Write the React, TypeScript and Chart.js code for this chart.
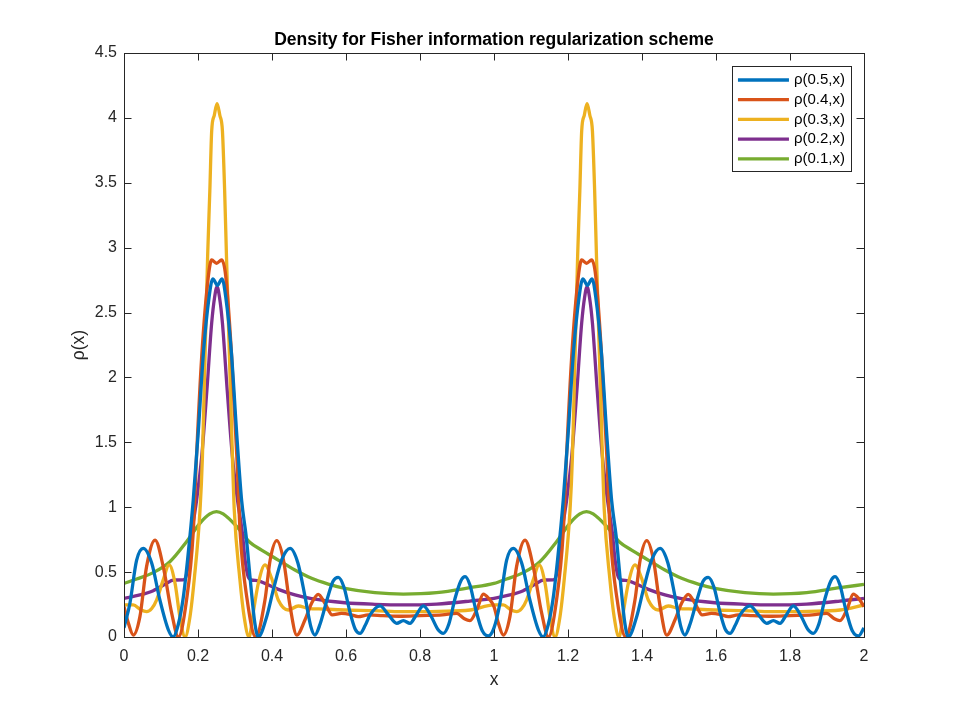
import { useEffect, useRef } from 'react';
import Chart from 'chart.js/auto';

const FONT = "'Liberation Sans', Arial, Helvetica, sans-serif";
const AXIS_COLOR = '#262626';

// x ticks / y ticks
const xTicks = [0, 0.2, 0.4, 0.6, 0.8, 1, 1.2, 1.4, 1.6, 1.8, 2];
const yTicks = [0, 0.5, 1, 1.5, 2, 2.5, 3, 3.5, 4, 4.5];

const labels = ['ρ(0.5,x)', 'ρ(0.4,x)', 'ρ(0.3,x)', 'ρ(0.2,x)', 'ρ(0.1,x)'];
const colors = ['#0072BD', '#D95319', '#EDB120', '#7E2F8E', '#77AC30'];

// rho(0.5,x)
const rho05X = [
  0, 0.016, 0.034, 0.052, 0.075, 0.097, 0.12, 0.133, 0.147, 0.16, 0.172, 0.187, 0.2, 0.215, 0.23, 0.24, 0.2525,
  0.265, 0.275, 0.29, 0.305, 0.318, 0.33, 0.342, 0.353, 0.363, 0.385, 0.405, 0.427, 0.449, 0.47, 0.49, 0.505,
  0.516, 0.53, 0.55, 0.565, 0.579, 0.595, 0.61, 0.625, 0.638, 0.652, 0.665, 0.692, 0.715, 0.737, 0.755, 0.773,
  0.79, 0.809, 0.83, 0.848, 0.863, 0.878, 0.895, 0.91, 0.922, 0.935, 0.95, 0.968, 0.985,
  1, 1.016, 1.034, 1.052, 1.075, 1.097, 1.12, 1.133, 1.147, 1.16, 1.172, 1.187, 1.2, 1.215, 1.23, 1.24, 1.2525,
  1.265, 1.275, 1.29, 1.305, 1.318, 1.33, 1.342, 1.353, 1.363, 1.385, 1.405, 1.427, 1.449, 1.47, 1.49, 1.505,
  1.516, 1.53, 1.55, 1.565, 1.579, 1.595, 1.61, 1.625, 1.638, 1.652, 1.665, 1.692, 1.715, 1.737, 1.755, 1.773,
  1.79, 1.809, 1.83, 1.848, 1.863, 1.878, 1.895, 1.91, 1.922, 1.935, 1.95, 1.968, 1.985, 2,
];
const rho05Y = [
  0.07, 0.26, 0.59, 0.683, 0.568, 0.285, 0.054, 0, 0.1, 0.3, 0.6, 1.05, 1.55, 2.2, 2.62, 2.76, 2.71,
  2.76, 2.62, 2.2, 1.55, 1.05, 0.78, 0.42, 0.12, 0, 0.15, 0.38, 0.6, 0.683, 0.57, 0.3, 0.08,
  0.015, 0.1, 0.3, 0.43, 0.46, 0.38, 0.2, 0.06, 0.028, 0.09, 0.17, 0.24, 0.17, 0.105, 0.126, 0.105,
  0.17, 0.24, 0.16, 0.06, 0.028, 0.1, 0.3, 0.43, 0.465, 0.4, 0.22, 0.05, 0.008,
  0.07, 0.26, 0.59, 0.683, 0.568, 0.285, 0.054, 0, 0.1, 0.3, 0.6, 1.05, 1.55, 2.2, 2.62, 2.76, 2.71,
  2.76, 2.62, 2.2, 1.55, 1.05, 0.78, 0.42, 0.12, 0, 0.15, 0.38, 0.6, 0.683, 0.57, 0.3, 0.08,
  0.015, 0.1, 0.3, 0.43, 0.46, 0.38, 0.2, 0.06, 0.028, 0.09, 0.17, 0.24, 0.17, 0.105, 0.126, 0.105,
  0.17, 0.24, 0.16, 0.06, 0.028, 0.1, 0.3, 0.43, 0.465, 0.4, 0.22, 0.05, 0.008, 0.07,
];

// rho(0.4,x)
const rho04X = [
  0, 0.012, 0.025, 0.043, 0.061, 0.084, 0.106, 0.129, 0.147, 0.169, 0.187, 0.196, 0.21, 0.228, 0.237, 0.25,
  0.264, 0.275, 0.291, 0.305, 0.314, 0.333, 0.356, 0.381, 0.395, 0.413, 0.431, 0.449, 0.467, 0.489, 0.507,
  0.525, 0.543, 0.563, 0.588, 0.61, 0.633, 0.66, 0.7, 0.75, 0.8, 0.86, 0.899, 0.92, 0.935, 0.955, 0.971, 0.985,
  1, 1.012, 1.025, 1.043, 1.061, 1.084, 1.106, 1.129, 1.147, 1.169, 1.187, 1.196, 1.21, 1.228, 1.237, 1.25,
  1.264, 1.275, 1.291, 1.305, 1.314, 1.333, 1.356, 1.381, 1.395, 1.413, 1.431, 1.449, 1.467, 1.489, 1.507,
  1.525, 1.543, 1.563, 1.588, 1.61, 1.633, 1.66, 1.7, 1.75, 1.8, 1.86, 1.899, 1.92, 1.935, 1.955, 1.971, 1.985, 2,
];
const rho04Y = [
  0.234, 0.105, 0.015, 0.157, 0.542, 0.747, 0.542, 0.182, 0, 0.285, 0.8, 1.39, 2.16, 2.78, 2.905, 2.88,
  2.905, 2.78, 2.16, 1.39, 0.8, 0.285, 0, 0.285, 0.593, 0.742, 0.593, 0.234, 0.015, 0.131, 0.26,
  0.329, 0.26, 0.17, 0.182, 0.175, 0.157, 0.17, 0.165, 0.16, 0.165, 0.17, 0.182, 0.14, 0.126, 0.22, 0.331, 0.3,
  0.234, 0.105, 0.015, 0.157, 0.542, 0.747, 0.542, 0.182, 0, 0.285, 0.8, 1.39, 2.16, 2.78, 2.905, 2.88,
  2.905, 2.78, 2.16, 1.39, 0.8, 0.285, 0, 0.285, 0.593, 0.742, 0.593, 0.234, 0.015, 0.131, 0.26,
  0.329, 0.26, 0.17, 0.182, 0.175, 0.157, 0.17, 0.165, 0.16, 0.165, 0.17, 0.182, 0.14, 0.126, 0.22, 0.331, 0.3, 0.234,
];

// rho(0.3,x)
const rho03X = [
  0, 0.025, 0.045, 0.061, 0.075, 0.088, 0.106, 0.122, 0.138, 0.151, 0.165, 0.178, 0.19, 0.2055, 0.212, 0.219,
  0.226, 0.232, 0.237, 0.244, 0.2515, 0.259, 0.266, 0.272, 0.277, 0.285, 0.293, 0.298, 0.313, 0.325, 0.338,
  0.35, 0.363, 0.381, 0.399, 0.417, 0.444, 0.471, 0.498, 0.54, 0.597, 0.678, 0.75, 0.85, 0.935,
  1, 1.025, 1.045, 1.061, 1.075, 1.088, 1.106, 1.122, 1.138, 1.151, 1.165, 1.178, 1.19, 1.2055, 1.212, 1.219,
  1.226, 1.232, 1.237, 1.244, 1.2515, 1.259, 1.266, 1.272, 1.277, 1.285, 1.293, 1.298, 1.313, 1.325, 1.338,
  1.35, 1.363, 1.381, 1.399, 1.417, 1.444, 1.471, 1.498, 1.54, 1.597, 1.678, 1.75, 1.85, 1.935, 2,
];
const rho03Y = [
  0.247, 0.247, 0.21, 0.195, 0.22, 0.285, 0.44, 0.555, 0.413, 0.157, 0, 0.15, 0.45, 0.98, 1.39, 2.16,
  2.93, 3.44, 3.9, 4.02, 4.11, 4.02, 3.9, 3.44, 2.93, 2.16, 1.39, 0.98, 0.45, 0.15, 0,
  0.2, 0.413, 0.555, 0.452, 0.285, 0.208, 0.239, 0.221, 0.215, 0.208, 0.203, 0.195, 0.198, 0.208,
  0.247, 0.247, 0.21, 0.195, 0.22, 0.285, 0.44, 0.555, 0.413, 0.157, 0, 0.15, 0.45, 0.98, 1.39, 2.16,
  2.93, 3.44, 3.9, 4.02, 4.11, 4.02, 3.9, 3.44, 2.93, 2.16, 1.39, 0.98, 0.45, 0.15, 0,
  0.2, 0.413, 0.555, 0.452, 0.285, 0.208, 0.239, 0.221, 0.215, 0.208, 0.203, 0.195, 0.198, 0.208, 0.247,
];

// rho(0.2,x)
const rho02X = [
  0, 0.043, 0.079, 0.115, 0.133, 0.16, 0.169, 0.176, 0.183, 0.196, 0.21, 0.224, 0.237, 0.245, 0.2515, 0.258,
  0.266, 0.279, 0.293, 0.307, 0.32, 0.327, 0.334, 0.343, 0.36, 0.381, 0.417, 0.462, 0.507, 0.597, 0.678, 0.755,
  0.845, 0.935,
  1, 1.043, 1.079, 1.115, 1.133, 1.16, 1.169, 1.176, 1.183, 1.196, 1.21, 1.224, 1.237, 1.245, 1.2515, 1.258,
  1.266, 1.279, 1.293, 1.307, 1.32, 1.327, 1.334, 1.343, 1.36, 1.381, 1.417, 1.462, 1.507, 1.597, 1.678, 1.755,
  1.845, 1.935, 2,
];
const rho02Y = [
  0.298, 0.324, 0.357, 0.413, 0.439, 0.44, 0.48, 0.62, 0.8, 1.05, 1.39, 1.9, 2.42, 2.62, 2.7, 2.62,
  2.42, 1.9, 1.39, 1.05, 0.8, 0.6, 0.48, 0.44, 0.435, 0.413, 0.367, 0.324, 0.295, 0.264, 0.252, 0.247,
  0.254, 0.277,
  0.298, 0.324, 0.357, 0.413, 0.439, 0.44, 0.48, 0.62, 0.8, 1.05, 1.39, 1.9, 2.42, 2.62, 2.7, 2.62,
  2.42, 1.9, 1.39, 1.05, 0.8, 0.6, 0.48, 0.44, 0.435, 0.413, 0.367, 0.324, 0.295, 0.264, 0.252, 0.247,
  0.254, 0.277, 0.298,
];

// rho(0.1,x)
const rho01X = [
  0, 0.034, 0.079, 0.124, 0.169, 0.205, 0.232, 0.25, 0.268, 0.305, 0.34, 0.372, 0.417, 0.462, 0.507, 0.552,
  0.597, 0.678, 0.755, 0.845, 0.935,
  1, 1.034, 1.079, 1.124, 1.169, 1.205, 1.232, 1.25, 1.268, 1.305, 1.34, 1.372, 1.417, 1.462, 1.507, 1.552,
  1.597, 1.678, 1.755, 1.845, 1.935, 2,
];
const rho01Y = [
  0.413, 0.447, 0.496, 0.58, 0.734, 0.876, 0.948, 0.966, 0.948, 0.85, 0.73, 0.67, 0.593, 0.516, 0.452, 0.408,
  0.375, 0.342, 0.331, 0.342, 0.38,
  0.413, 0.447, 0.496, 0.58, 0.734, 0.876, 0.948, 0.966, 0.948, 0.85, 0.73, 0.67, 0.593, 0.516, 0.452, 0.408,
  0.375, 0.342, 0.331, 0.342, 0.38, 0.405,
];

const seriesX = [rho05X, rho04X, rho03X, rho02X, rho01X];
const seriesY = [rho05Y, rho04Y, rho03Y, rho02Y, rho01Y];

const fmt = (v: number) => String(Math.round(v * 10) / 10);

// box, inward ticks, title and axis labels, MATLAB style
const framePlugin = {
  id: 'frame',
  afterDraw(chart: any) {
    const { ctx, chartArea: a, scales } = chart;
    const tl = 7.5;
    ctx.save();
    ctx.strokeStyle = AXIS_COLOR;
    ctx.lineWidth = 1;
    ctx.strokeRect(Math.round(a.left) + 0.5, Math.round(a.top) + 0.5, Math.round(a.right - a.left), Math.round(a.bottom - a.top));
    ctx.beginPath();
    xTicks.forEach((t) => {
      const px = Math.round(scales.x.getPixelForValue(t)) + 0.5;
      ctx.moveTo(px, a.bottom);
      ctx.lineTo(px, a.bottom - tl);
      ctx.moveTo(px, a.top);
      ctx.lineTo(px, a.top + tl);
    });
    yTicks.forEach((t) => {
      const py = Math.round(scales.y.getPixelForValue(t)) + 0.5;
      ctx.moveTo(a.left, py);
      ctx.lineTo(a.left + tl, py);
      ctx.moveTo(a.right, py);
      ctx.lineTo(a.right - tl, py);
    });
    ctx.stroke();

    const cx = (a.left + a.right) / 2;
    ctx.fillStyle = '#000';
    ctx.textAlign = 'center';
    ctx.textBaseline = 'alphabetic';
    ctx.font = `bold 17.5px ${FONT}`;
    ctx.fillText('Density for Fisher information regularization scheme', cx, a.top - 8);

    ctx.fillStyle = AXIS_COLOR;
    ctx.font = `17.5px ${FONT}`;
    ctx.fillText('x', cx, a.bottom + 48);

    ctx.translate(a.left - 40, (a.top + a.bottom) / 2);
    ctx.rotate(-Math.PI / 2);
    ctx.fillText('ρ(x)', 0, 0);
    ctx.restore();
  },
};

// legend box in the upper right corner of the axes
const legendPlugin = {
  id: 'boxLegend',
  afterDraw(chart: any) {
    const { ctx, chartArea: a } = chart;
    const items = chart.data.datasets;
    const rowH = 19.7;
    const lineLen = 51;
    ctx.save();
    ctx.font = `15px ${FONT}`;
    const textW = Math.max(...items.map((d: any) => ctx.measureText(d.label).width));
    const w = 6 + lineLen + 5 + textW + 6;
    const h = rowH * (items.length - 1) + 26;
    const right = a.right - 13;
    const top = a.top + 13;
    const left = right - w;
    ctx.fillStyle = '#fff';
    ctx.fillRect(left, top, w, h);
    ctx.strokeStyle = AXIS_COLOR;
    ctx.lineWidth = 1;
    ctx.strokeRect(Math.round(left) + 0.5, Math.round(top) + 0.5, Math.round(w), Math.round(h));
    items.forEach((d: any, i: number) => {
      const cy = top + 14 + i * rowH;
      ctx.strokeStyle = d.borderColor;
      ctx.lineWidth = 3.3;
      ctx.beginPath();
      ctx.moveTo(left + 6, cy);
      ctx.lineTo(left + 6 + lineLen, cy);
      ctx.stroke();
      ctx.fillStyle = '#000';
      ctx.textAlign = 'left';
      ctx.textBaseline = 'middle';
      ctx.fillText(d.label, left + 6 + lineLen + 5, cy);
    });
    ctx.restore();
  },
};

export default function App() {
  const canvasRef = useRef<HTMLCanvasElement | null>(null);

  useEffect(() => {
    if (!canvasRef.current) return;
    const chart = new Chart(canvasRef.current, {
      type: 'line',
      data: {
        datasets: labels.map((label, i) => ({
          label,
          data: seriesX[i].map((x, j) => ({ x, y: seriesY[i][j] })),
          borderColor: colors[i],
          backgroundColor: colors[i],
          borderWidth: 3.3,
          pointRadius: 0,
          cubicInterpolationMode: 'monotone' as const,
          fill: false,
        })),
      },
      options: {
        responsive: false,
        animation: false,
        devicePixelRatio: 1,
        layout: { padding: { left: 0, right: 91, top: 53, bottom: 0 } },
        plugins: { legend: { display: false }, tooltip: { enabled: false } },
        scales: {
          x: {
            type: 'linear',
            min: 0,
            max: 2,
            afterFit: (s: any) => { s.height = 79; },
            afterBuildTicks: (s: any) => { s.ticks = xTicks.map((value) => ({ value })); },
            grid: { display: false, drawTicks: false },
            border: { display: false },
            ticks: {
              autoSkip: false,
              maxRotation: 0,
              padding: 10,
              color: AXIS_COLOR,
              font: { family: FONT, size: 16 },
              callback: (v: any) => fmt(Number(v)),
            },
          },
          y: {
            type: 'linear',
            min: 0,
            max: 4.5,
            afterFit: (s: any) => { s.width = 124; },
            afterBuildTicks: (s: any) => { s.ticks = yTicks.map((value) => ({ value })); },
            grid: { display: false, drawTicks: false },
            border: { display: false },
            ticks: {
              autoSkip: false,
              padding: 7,
              color: AXIS_COLOR,
              font: { family: FONT, size: 16 },
              callback: (v: any) => fmt(Number(v)),
            },
          },
        },
      },
      plugins: [framePlugin, legendPlugin],
    });
    return () => chart.destroy();
  }, []);

  return (
    <div style={{ position: 'fixed', left: 0, top: 0, width: 955, height: 716, background: '#fff' }}>
      <canvas ref={canvasRef} width={955} height={716} style={{ display: 'block' }} />
    </div>
  );
}
